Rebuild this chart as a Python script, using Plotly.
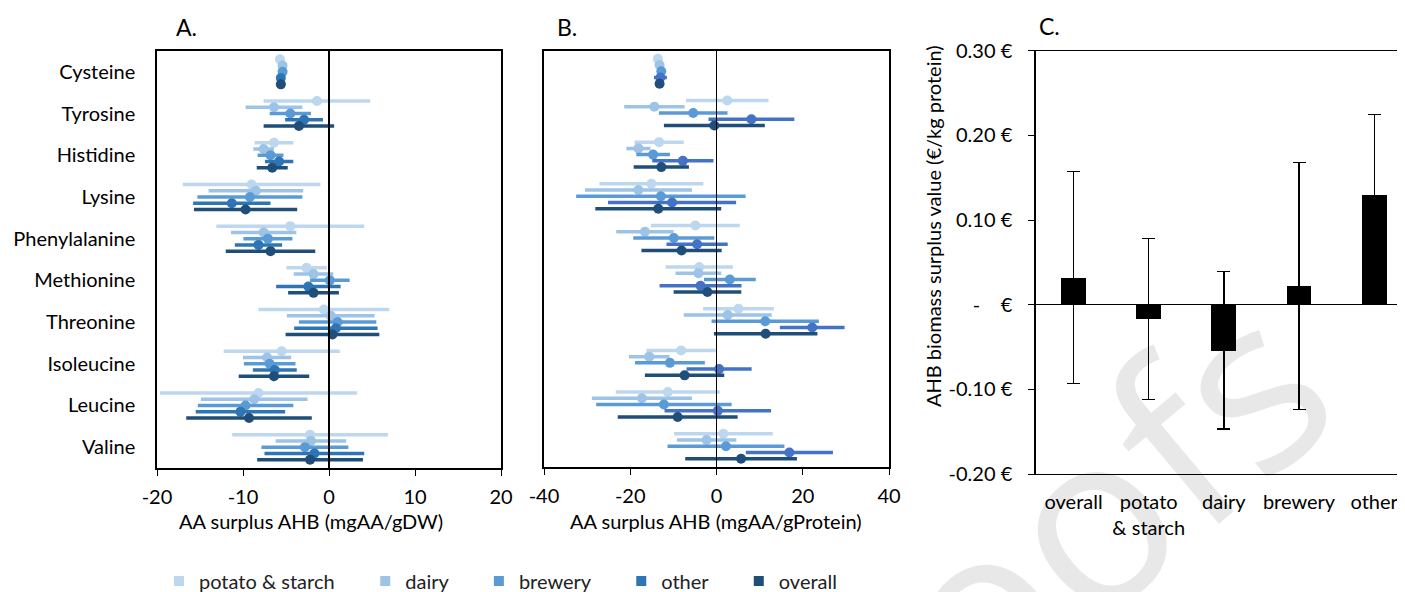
import plotly.graph_objects as go

W, H = 1405, 592
OFF = 8  # page body margin in the browser
FONT = "Lato"

amino_acids = ["Cysteine", "Tyrosine", "Histidine", "Lysine", "Phenylalanine",
               "Methionine", "Threonine", "Isoleucine", "Leucine", "Valine"]
series = ["potato & starch", "dairy", "brewery", "other", "overall"]

# panel A: AA surplus (mgAA/gDW), mean and +/- error per series
a_mean = {
    "potato & starch": [-5.7, -1.4, -6.4, -9.0, -4.5, -2.6, -0.6, -5.5, -8.2, -2.2],
    "dairy":           [-5.4, -6.4, -7.6, -8.5, -7.6, -1.8, 0.2, -7.2, -8.7, -2.1],
    "brewery":         [-5.4, -4.5, -6.8, -9.2, -7.1, 0.1, 1.0, -6.9, -9.7, -2.8],
    "other":           [-5.6, -2.9, -5.8, -11.3, -8.2, -2.4, 0.8, -6.3, -10.3, -1.7],
    "overall":         [-5.6, -3.5, -6.6, -9.7, -6.8, -1.8, 0.4, -6.4, -9.3, -2.2],
}
a_err = {
    "potato & starch": [0.3, 6.2, 2.25, 8.0, 8.6, 2.35, 7.6, 6.75, 11.45, 9.05],
    "dairy":           [0.3, 3.3, 1.2, 5.5, 3.8, 2.3, 5.1, 2.8, 6.2, 4.1],
    "brewery":         [0.3, 2.4, 1.5, 6.1, 2.85, 2.3, 4.5, 3.0, 5.55, 5.05],
    "other":           [0.3, 2.2, 1.65, 4.5, 2.75, 3.75, 4.85, 2.55, 5.2, 5.8],
    "overall":         [0.3, 4.1, 1.8, 6.0, 5.2, 2.95, 5.45, 4.1, 7.3, 6.15],
}
a_ticks = [-20, -10, 0, 10, 20]

# panel B: AA surplus (mgAA/gProtein)
b_mean = {
    "potato & starch": [-13.6, 2.5, -13.3, -15.1, -4.9, -4.0, 5.1, -8.2, -11.3, 1.6],
    "dairy":           [-13.2, -14.4, -18.1, -18.1, -16.6, -4.2, 2.6, -15.6, -17.3, -2.3],
    "brewery":         [-12.8, -5.4, -14.7, -12.9, -9.9, 3.1, 11.3, -10.8, -12.2, 2.2],
    "other":           [-13.0, 8.1, -7.8, -10.3, -4.5, -3.7, 22.2, 0.6, 0.3, 16.9],
    "overall":         [-13.2, -0.5, -12.8, -13.5, -8.1, -2.1, 11.4, -7.4, -9.0, 5.7],
}
b_err = {
    "potato & starch": [0.3, 9.55, 5.7, 12.05, 10.3, 7.8, 8.2, 8.05, 12.05, 11.45],
    "dairy":           [0.3, 7.0, 2.8, 12.4, 6.65, 5.3, 10.2, 4.7, 11.6, 6.9],
    "brewery":         [0.5, 7.95, 3.9, 19.65, 9.4, 6.0, 12.45, 8.1, 15.7, 13.55],
    "other":           [1.5, 9.95, 7.1, 14.85, 7.1, 9.5, 7.5, 7.55, 12.35, 10.1],
    "overall":         [0.3, 11.7, 6.4, 14.6, 9.3, 7.85, 12.0, 9.2, 13.9, 12.95],
}
b_ticks = [-40, -20, 0, 20, 40]

# panel C: AHB biomass surplus value (EUR/kg protein)
c_labels = ["overall", "potato<br>& starch", "dairy", "brewery", "other"]
c_value = [0.032, -0.017, -0.054, 0.022, 0.130]
c_err = [0.125, 0.095, 0.093, 0.146, 0.095]
c_ticks = [-0.2, -0.1, 0.0, 0.1, 0.2, 0.3]
c_ticktext = ["-0.20 €", "-0.10 €", "-\u00a0\u00a0\u00a0\u00a0€", "0.10 €", "0.20 €", "0.30 €"]

colors_a = {"potato & starch": "#BDD7EE", "dairy": "#9DC3E6", "brewery": "#5B9BD5",
            "other": "#2E75B6", "overall": "#1F4E79"}
colors_b = dict(colors_a, other="#4472C4")
dodge = {"potato & starch": -0.3, "dairy": -0.15, "brewery": 0.0, "other": 0.15, "overall": 0.3}

FW, FH = W - OFF, H - OFF


def px_x(v):
    return (v - OFF) / FW


def px_y(v):
    return 1 - (v - OFF) / FH


fig = go.Figure()

for name in series:
    ypos = [i + dodge[name] for i in range(len(amino_acids))]
    for mean, err, cols, xa, ya in [(a_mean, a_err, colors_a, "x", "y"),
                                    (b_mean, b_err, colors_b, "x2", "y2")]:
        fig.add_trace(go.Scatter(
            x=mean[name], y=ypos, mode="markers", xaxis=xa, yaxis=ya,
            marker=dict(size=10, color=cols[name]),
            error_x=dict(type="data", array=err[name], color=cols[name],
                         thickness=3.5, width=0),
            showlegend=False, name=name,
        ))
    # legend entry (square swatch)
    fig.add_trace(go.Scatter(
        x=[None], y=[None], mode="markers", xaxis="x", yaxis="y",
        marker=dict(size=10, symbol="square", color=colors_a[name]),
        name=name + "\u00a0" * 5, showlegend=True,
    ))

fig.add_trace(go.Bar(
    x=list(range(len(c_labels))), y=c_value, xaxis="x3", yaxis="y3",
    width=0.33, marker=dict(color="black", line=dict(width=0)),
    error_y=dict(type="data", array=c_err, color="black", thickness=1.3, width=6.5),
    showlegend=False,
))

axis_common = dict(showgrid=False, zeroline=False, linecolor="black", linewidth=1.5,
                   mirror=True, showline=True, automargin=False)
tickfont = dict(family=FONT, size=20, color="black")

fig.update_layout(
    width=FW, height=FH,
    margin=dict(l=0, r=0, t=0, b=0, autoexpand=False),
    plot_bgcolor="white", paper_bgcolor="white",
    font=dict(family=FONT, color="black"),
    xaxis=dict(domain=[px_x(157), px_x(501)], range=[-20, 20], tickvals=a_ticks,
               ticktext=[str(t) for t in a_ticks],
               ticks="outside", ticklen=6, tickcolor="black", tickfont=tickfont,
               ticklabelstandoff=4, **axis_common),
    yaxis=dict(domain=[px_y(468), px_y(51)], range=[9.5, -0.5], tickvals=list(range(10)),
               ticktext=amino_acids, ticks="", ticklabelstandoff=16, tickfont=tickfont,
               **axis_common),
    xaxis2=dict(domain=[px_x(544), px_x(889)], range=[-40, 40], tickvals=b_ticks,
                ticktext=[str(t) for t in b_ticks],
                ticks="outside", ticklen=6, tickcolor="black", tickfont=tickfont,
                ticklabelstandoff=4, anchor="y2", **axis_common),
    yaxis2=dict(domain=[px_y(467), px_y(50.5)], range=[9.5, -0.5], showticklabels=False,
                ticks="", anchor="x2", **axis_common),
    xaxis3=dict(domain=[px_x(1036), 1.0], range=[-0.5, 4.41], tickvals=list(range(5)),
                ticktext=c_labels, ticks="", tickfont=tickfont, anchor="y3",
                ticklabelstandoff=10, automargin=False,
                showgrid=False, zeroline=False, showline=True, mirror=True,
                linecolor="black", linewidth=1.3),
    yaxis3=dict(domain=[px_y(474), px_y(50.7)], range=[-0.2, 0.3], tickvals=c_ticks,
                ticktext=c_ticktext, ticks="outside", ticklen=6, tickcolor="black",
                ticklabelstandoff=12, automargin=False,
                tickfont=tickfont, anchor="x3", showgrid=False, showline=True,
                linecolor="black", linewidth=1.5, zeroline=True, zerolinecolor="black",
                zerolinewidth=1.3),
    legend=dict(orientation="h", x=px_x(159), y=px_y(581), xanchor="left", yanchor="middle",
                font=dict(family=FONT, size=20, color="#222"), bgcolor="rgba(0,0,0,0)"),
    bargap=0,
)

fig.add_vline(x=0, xref="x", line=dict(color="black", width=2), layer="above")
fig.add_vline(x=0, xref="x2", line=dict(color="black", width=1), layer="above")

notes = [
    ("A.", 186, 27, 23, 0),
    ("B.", 567, 27, 23, 0),
    ("C.", 1049, 26, 23, 0),
    ("AA surplus AHB (mgAA/gDW)", 311, 521, 20, 0),
    ("AA surplus AHB (mgAA/gProtein)", 716, 521, 20, 0),
    ("AHB biomass surplus value (€/kg protein)", 933, 226, 20, -90),
]
for text, x, y, size, ang in notes:
    fig.add_annotation(text=text, x=px_x(x), y=px_y(y), xref="paper", yref="paper",
                       showarrow=False, textangle=ang, xanchor="center", yanchor="middle",
                       font=dict(family=FONT, size=size, color="black"))

# journal watermark
fig.add_annotation(text="roofs", x=px_x(1065), y=px_y(530), xref="paper", yref="paper",
                   showarrow=False, textangle=-40, xanchor="center", yanchor="middle",
                   font=dict(family="Open Sans", size=240, color="rgba(0,0,0,0.09)"))

fig.write_html("out.html")
